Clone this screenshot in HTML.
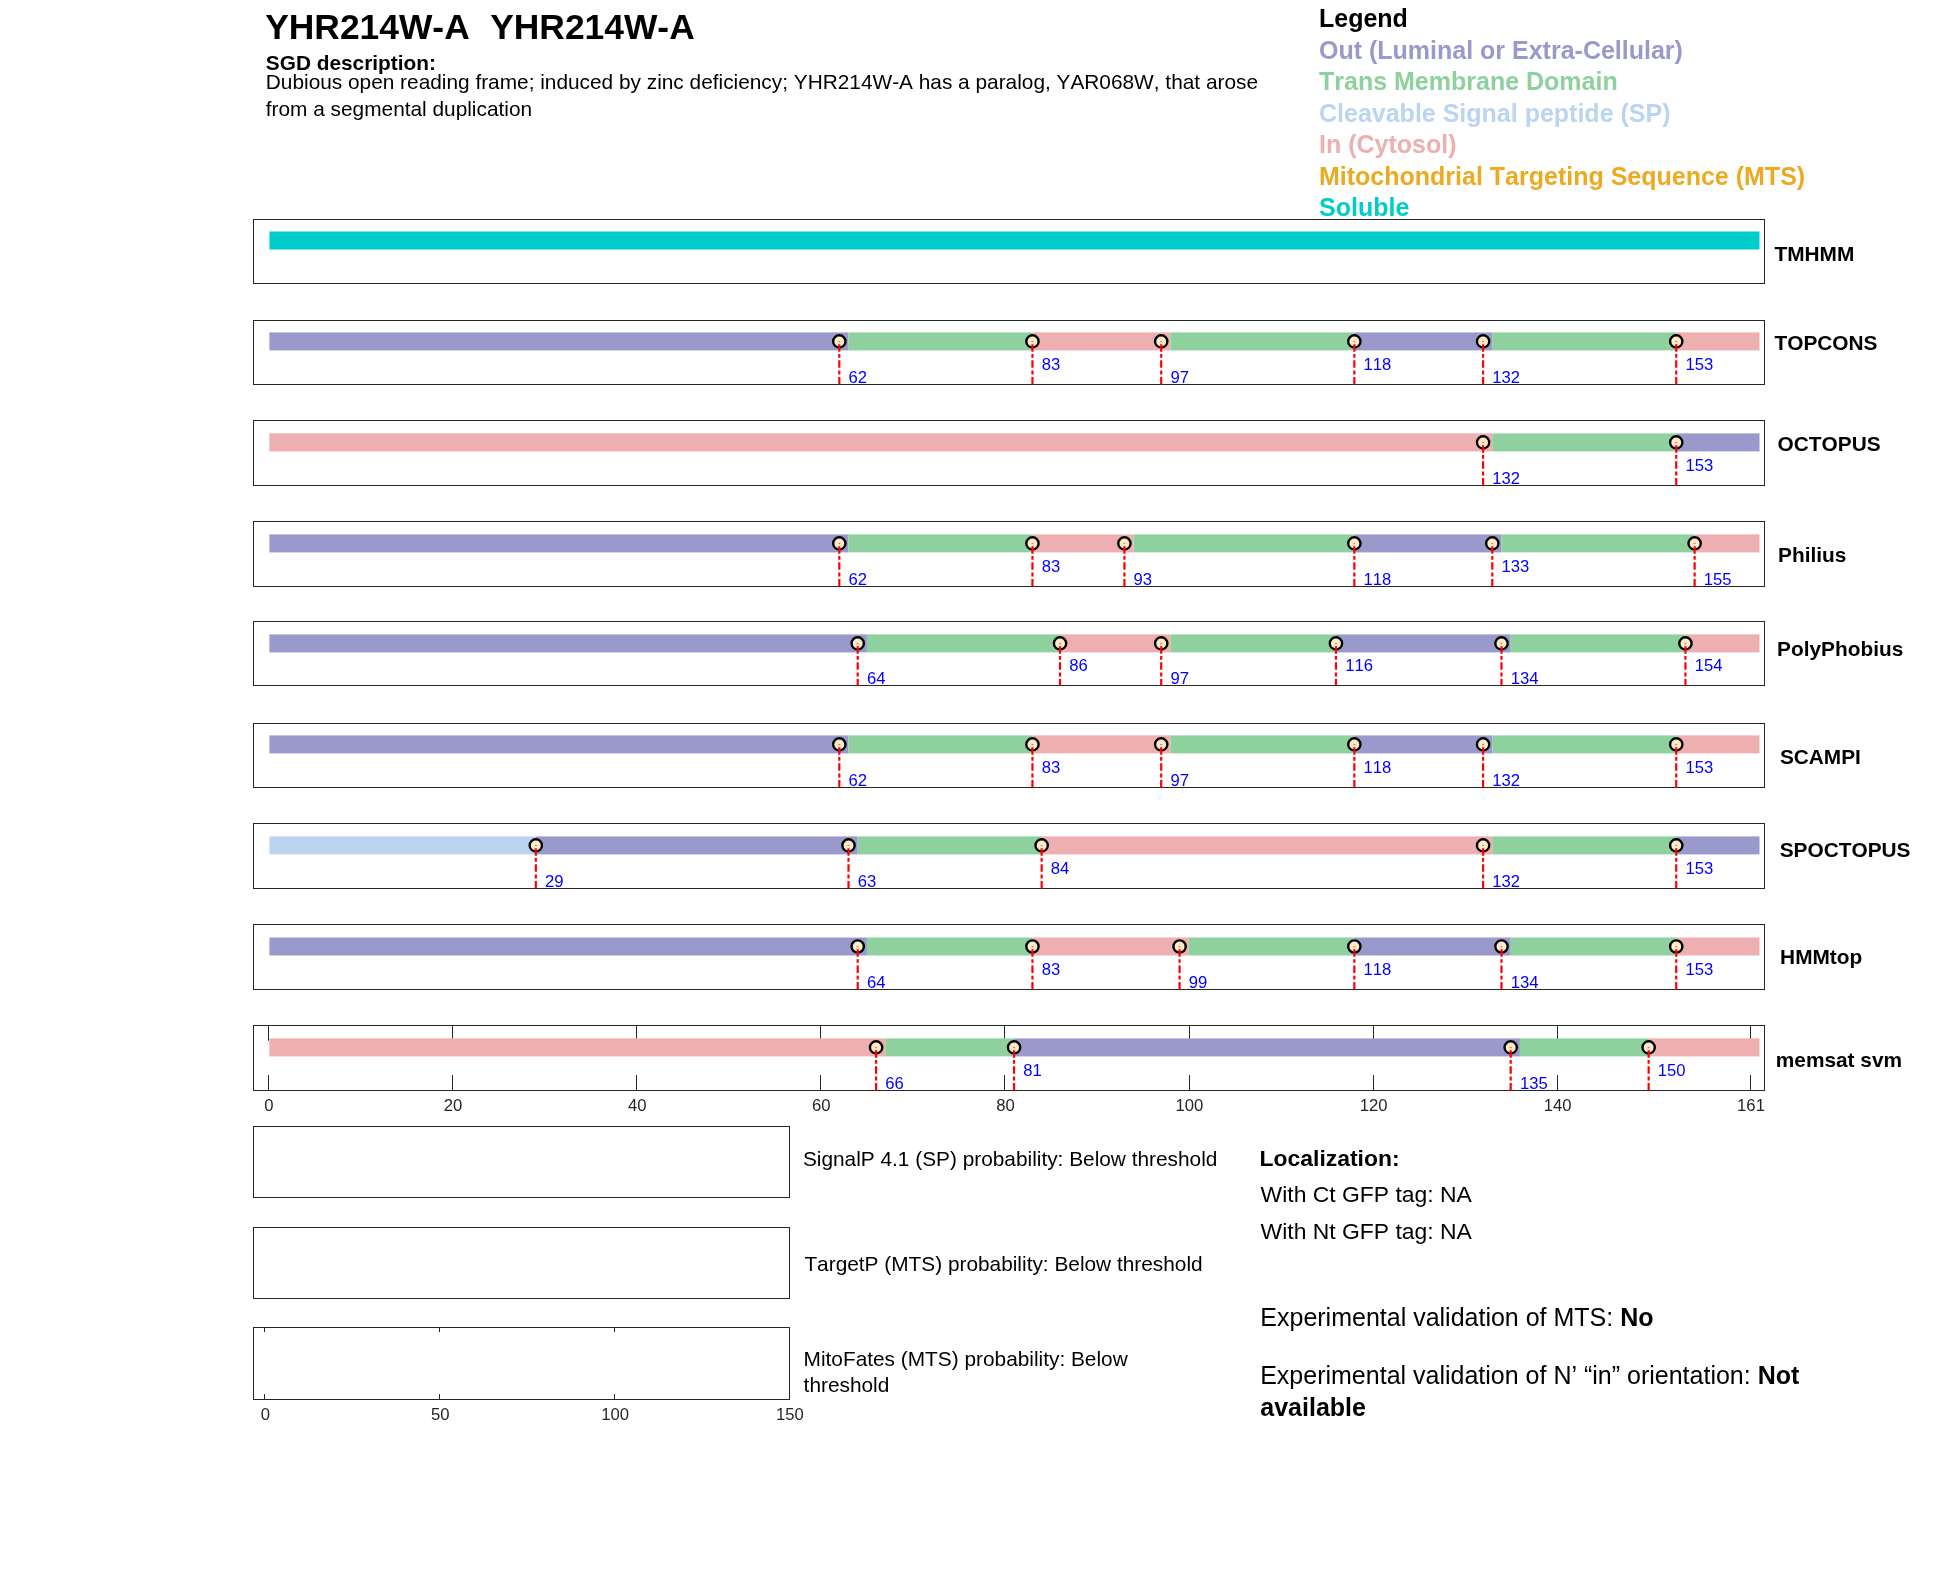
<!DOCTYPE html><html><head><meta charset="utf-8"><style>html,body{margin:0;padding:0;background:#fff;overflow:hidden;}svg{display:block;will-change:transform;}text{font-family:"Liberation Sans", sans-serif;font-variant-ligatures:none;font-kerning:none;}</style></head><body>
<svg width="1950" height="1573" viewBox="0 0 1950 1573">
<text x="265.2" y="38.8" font-size="35.4" font-weight="bold" fill="#000">YHR214W-A</text>
<text x="490.2" y="38.8" font-size="35.4" font-weight="bold" fill="#000">YHR214W-A</text>
<text x="265.8" y="69.7" font-size="20.83" font-weight="bold" fill="#000">SGD description:</text>
<text x="265.8" y="88.9" font-size="20.83" fill="#000">Dubious open reading frame; induced by zinc deficiency; YHR214W-A has a paralog, YAR068W, that arose</text>
<text x="265.8" y="115.6" font-size="20.83" fill="#000">from a segmental duplication</text>
<text x="1319" y="27.0" font-size="25" font-weight="bold" fill="#000">Legend</text>
<text x="1319" y="58.5" font-size="25" font-weight="bold" fill="#9999CC">Out (Luminal or Extra-Cellular)</text>
<text x="1319" y="90.0" font-size="25" font-weight="bold" fill="#8FD19E">Trans Membrane Domain</text>
<text x="1319" y="121.5" font-size="25" font-weight="bold" fill="#BAD4F2">Cleavable Signal peptide (SP)</text>
<text x="1319" y="153.0" font-size="25" font-weight="bold" fill="#EDAFAF">In (Cytosol)</text>
<text x="1319" y="184.5" font-size="25" font-weight="bold" fill="#EDAA20">Mitochondrial Targeting Sequence (MTS)</text>
<text x="1319" y="216.0" font-size="25" font-weight="bold" fill="#00CCCC">Soluble</text>
<rect x="253.5" y="219.5" width="1511" height="64" fill="none" stroke="#262626" stroke-width="1"/>
<rect x="269.4" y="231.50" width="1490.10" height="18.0" fill="#00CCCC"/>
<text x="1774.5" y="261" font-size="20.83" font-weight="bold" fill="#000">TMHMM</text>
<rect x="253.5" y="320.5" width="1511" height="64" fill="none" stroke="#262626" stroke-width="1"/>
<rect x="269.40" y="332.40" width="579.11" height="18.0" fill="#9999CC"/>
<rect x="848.51" y="332.40" width="183.94" height="18.0" fill="#8FD19E"/>
<rect x="1032.45" y="332.40" width="137.95" height="18.0" fill="#EDAFAF"/>
<rect x="1170.41" y="332.40" width="183.94" height="18.0" fill="#8FD19E"/>
<rect x="1354.35" y="332.40" width="137.95" height="18.0" fill="#9999CC"/>
<rect x="1492.30" y="332.40" width="183.94" height="18.0" fill="#8FD19E"/>
<rect x="1676.24" y="332.40" width="83.26" height="18.0" fill="#EDAFAF"/>
<circle cx="839.31" cy="341.40" r="6.15" fill="#FCE9CA" stroke="#000" stroke-width="2.35"/>
<circle cx="1032.45" cy="341.40" r="6.15" fill="#FCE9CA" stroke="#000" stroke-width="2.35"/>
<circle cx="1161.21" cy="341.40" r="6.15" fill="#FCE9CA" stroke="#000" stroke-width="2.35"/>
<circle cx="1354.35" cy="341.40" r="6.15" fill="#FCE9CA" stroke="#000" stroke-width="2.35"/>
<circle cx="1483.10" cy="341.40" r="6.15" fill="#FCE9CA" stroke="#000" stroke-width="2.35"/>
<circle cx="1676.24" cy="341.40" r="6.15" fill="#FCE9CA" stroke="#000" stroke-width="2.35"/>
<rect x="838.31" y="341.10" width="2" height="0.9" fill="#FF0000" opacity="0.6"/>
<line x1="839.31" y1="344.20" x2="839.31" y2="384.5" stroke="#FF0000" stroke-width="2.2" stroke-dasharray="7.5 2.4 3.6 2.6 7.5 2.8 3.8 2.6 40"/>
<text x="848.51" y="382.90" font-size="16.67" fill="#0000FF">62</text>
<rect x="1031.45" y="341.10" width="2" height="0.9" fill="#FF0000" opacity="0.6"/>
<line x1="1032.45" y1="344.20" x2="1032.45" y2="384.5" stroke="#FF0000" stroke-width="2.2" stroke-dasharray="7.5 2.4 3.6 2.6 7.5 2.8 3.8 2.6 40"/>
<text x="1041.65" y="369.90" font-size="16.67" fill="#0000FF">83</text>
<rect x="1160.21" y="341.10" width="2" height="0.9" fill="#FF0000" opacity="0.6"/>
<line x1="1161.21" y1="344.20" x2="1161.21" y2="384.5" stroke="#FF0000" stroke-width="2.2" stroke-dasharray="7.5 2.4 3.6 2.6 7.5 2.8 3.8 2.6 40"/>
<text x="1170.41" y="382.90" font-size="16.67" fill="#0000FF">97</text>
<rect x="1353.35" y="341.10" width="2" height="0.9" fill="#FF0000" opacity="0.6"/>
<line x1="1354.35" y1="344.20" x2="1354.35" y2="384.5" stroke="#FF0000" stroke-width="2.2" stroke-dasharray="7.5 2.4 3.6 2.6 7.5 2.8 3.8 2.6 40"/>
<text x="1363.54" y="369.90" font-size="16.67" fill="#0000FF">118</text>
<rect x="1482.10" y="341.10" width="2" height="0.9" fill="#FF0000" opacity="0.6"/>
<line x1="1483.10" y1="344.20" x2="1483.10" y2="384.5" stroke="#FF0000" stroke-width="2.2" stroke-dasharray="7.5 2.4 3.6 2.6 7.5 2.8 3.8 2.6 40"/>
<text x="1492.30" y="382.90" font-size="16.67" fill="#0000FF">132</text>
<rect x="1675.24" y="341.10" width="2" height="0.9" fill="#FF0000" opacity="0.6"/>
<line x1="1676.24" y1="344.20" x2="1676.24" y2="384.5" stroke="#FF0000" stroke-width="2.2" stroke-dasharray="7.5 2.4 3.6 2.6 7.5 2.8 3.8 2.6 40"/>
<text x="1685.44" y="369.90" font-size="16.67" fill="#0000FF">153</text>
<text x="1774.5" y="350" font-size="20.83" font-weight="bold" fill="#000">TOPCONS</text>
<rect x="253.5" y="420.5" width="1511" height="65" fill="none" stroke="#262626" stroke-width="1"/>
<rect x="269.40" y="433.40" width="1222.90" height="18.0" fill="#EDAFAF"/>
<rect x="1492.30" y="433.40" width="183.94" height="18.0" fill="#8FD19E"/>
<rect x="1676.24" y="433.40" width="83.26" height="18.0" fill="#9999CC"/>
<circle cx="1483.10" cy="442.40" r="6.15" fill="#FCE9CA" stroke="#000" stroke-width="2.35"/>
<circle cx="1676.24" cy="442.40" r="6.15" fill="#FCE9CA" stroke="#000" stroke-width="2.35"/>
<rect x="1482.10" y="442.10" width="2" height="0.9" fill="#FF0000" opacity="0.6"/>
<line x1="1483.10" y1="445.20" x2="1483.10" y2="485.5" stroke="#FF0000" stroke-width="2.2" stroke-dasharray="7.5 2.4 3.6 2.6 7.5 2.8 3.8 2.6 40"/>
<text x="1492.30" y="483.90" font-size="16.67" fill="#0000FF">132</text>
<rect x="1675.24" y="442.10" width="2" height="0.9" fill="#FF0000" opacity="0.6"/>
<line x1="1676.24" y1="445.20" x2="1676.24" y2="485.5" stroke="#FF0000" stroke-width="2.2" stroke-dasharray="7.5 2.4 3.6 2.6 7.5 2.8 3.8 2.6 40"/>
<text x="1685.44" y="470.90" font-size="16.67" fill="#0000FF">153</text>
<text x="1777.6" y="451" font-size="20.83" font-weight="bold" fill="#000">OCTOPUS</text>
<rect x="253.5" y="521.5" width="1511" height="65" fill="none" stroke="#262626" stroke-width="1"/>
<rect x="269.40" y="534.40" width="579.11" height="18.0" fill="#9999CC"/>
<rect x="848.51" y="534.40" width="183.94" height="18.0" fill="#8FD19E"/>
<rect x="1032.45" y="534.40" width="101.17" height="18.0" fill="#EDAFAF"/>
<rect x="1133.62" y="534.40" width="220.73" height="18.0" fill="#8FD19E"/>
<rect x="1354.35" y="534.40" width="147.15" height="18.0" fill="#9999CC"/>
<rect x="1501.50" y="534.40" width="193.14" height="18.0" fill="#8FD19E"/>
<rect x="1694.63" y="534.40" width="64.87" height="18.0" fill="#EDAFAF"/>
<circle cx="839.31" cy="543.40" r="6.15" fill="#FCE9CA" stroke="#000" stroke-width="2.35"/>
<circle cx="1032.45" cy="543.40" r="6.15" fill="#FCE9CA" stroke="#000" stroke-width="2.35"/>
<circle cx="1124.42" cy="543.40" r="6.15" fill="#FCE9CA" stroke="#000" stroke-width="2.35"/>
<circle cx="1354.35" cy="543.40" r="6.15" fill="#FCE9CA" stroke="#000" stroke-width="2.35"/>
<circle cx="1492.30" cy="543.40" r="6.15" fill="#FCE9CA" stroke="#000" stroke-width="2.35"/>
<circle cx="1694.63" cy="543.40" r="6.15" fill="#FCE9CA" stroke="#000" stroke-width="2.35"/>
<rect x="838.31" y="543.10" width="2" height="0.9" fill="#FF0000" opacity="0.6"/>
<line x1="839.31" y1="546.20" x2="839.31" y2="586.5" stroke="#FF0000" stroke-width="2.2" stroke-dasharray="7.5 2.4 3.6 2.6 7.5 2.8 3.8 2.6 40"/>
<text x="848.51" y="584.90" font-size="16.67" fill="#0000FF">62</text>
<rect x="1031.45" y="543.10" width="2" height="0.9" fill="#FF0000" opacity="0.6"/>
<line x1="1032.45" y1="546.20" x2="1032.45" y2="586.5" stroke="#FF0000" stroke-width="2.2" stroke-dasharray="7.5 2.4 3.6 2.6 7.5 2.8 3.8 2.6 40"/>
<text x="1041.65" y="571.90" font-size="16.67" fill="#0000FF">83</text>
<rect x="1123.42" y="543.10" width="2" height="0.9" fill="#FF0000" opacity="0.6"/>
<line x1="1124.42" y1="546.20" x2="1124.42" y2="586.5" stroke="#FF0000" stroke-width="2.2" stroke-dasharray="7.5 2.4 3.6 2.6 7.5 2.8 3.8 2.6 40"/>
<text x="1133.62" y="584.90" font-size="16.67" fill="#0000FF">93</text>
<rect x="1353.35" y="543.10" width="2" height="0.9" fill="#FF0000" opacity="0.6"/>
<line x1="1354.35" y1="546.20" x2="1354.35" y2="586.5" stroke="#FF0000" stroke-width="2.2" stroke-dasharray="7.5 2.4 3.6 2.6 7.5 2.8 3.8 2.6 40"/>
<text x="1363.54" y="584.90" font-size="16.67" fill="#0000FF">118</text>
<rect x="1491.30" y="543.10" width="2" height="0.9" fill="#FF0000" opacity="0.6"/>
<line x1="1492.30" y1="546.20" x2="1492.30" y2="586.5" stroke="#FF0000" stroke-width="2.2" stroke-dasharray="7.5 2.4 3.6 2.6 7.5 2.8 3.8 2.6 40"/>
<text x="1501.50" y="571.90" font-size="16.67" fill="#0000FF">133</text>
<rect x="1693.63" y="543.10" width="2" height="0.9" fill="#FF0000" opacity="0.6"/>
<line x1="1694.63" y1="546.20" x2="1694.63" y2="586.5" stroke="#FF0000" stroke-width="2.2" stroke-dasharray="7.5 2.4 3.6 2.6 7.5 2.8 3.8 2.6 40"/>
<text x="1703.83" y="584.90" font-size="16.67" fill="#0000FF">155</text>
<text x="1778.1" y="561.9" font-size="20.83" font-weight="bold" fill="#000">Philius</text>
<rect x="253.5" y="621.5" width="1511" height="64" fill="none" stroke="#262626" stroke-width="1"/>
<rect x="269.40" y="634.40" width="597.50" height="18.0" fill="#9999CC"/>
<rect x="866.90" y="634.40" width="193.14" height="18.0" fill="#8FD19E"/>
<rect x="1060.04" y="634.40" width="110.36" height="18.0" fill="#EDAFAF"/>
<rect x="1170.41" y="634.40" width="165.55" height="18.0" fill="#8FD19E"/>
<rect x="1335.95" y="634.40" width="174.74" height="18.0" fill="#9999CC"/>
<rect x="1510.69" y="634.40" width="174.74" height="18.0" fill="#8FD19E"/>
<rect x="1685.44" y="634.40" width="74.06" height="18.0" fill="#EDAFAF"/>
<circle cx="857.71" cy="643.40" r="6.15" fill="#FCE9CA" stroke="#000" stroke-width="2.35"/>
<circle cx="1060.04" cy="643.40" r="6.15" fill="#FCE9CA" stroke="#000" stroke-width="2.35"/>
<circle cx="1161.21" cy="643.40" r="6.15" fill="#FCE9CA" stroke="#000" stroke-width="2.35"/>
<circle cx="1335.95" cy="643.40" r="6.15" fill="#FCE9CA" stroke="#000" stroke-width="2.35"/>
<circle cx="1501.50" cy="643.40" r="6.15" fill="#FCE9CA" stroke="#000" stroke-width="2.35"/>
<circle cx="1685.44" cy="643.40" r="6.15" fill="#FCE9CA" stroke="#000" stroke-width="2.35"/>
<rect x="856.71" y="643.10" width="2" height="0.9" fill="#FF0000" opacity="0.6"/>
<line x1="857.71" y1="646.20" x2="857.71" y2="685.5" stroke="#FF0000" stroke-width="2.2" stroke-dasharray="7.5 2.4 3.6 2.6 7.5 2.8 3.8 2.6 40"/>
<text x="866.90" y="683.90" font-size="16.67" fill="#0000FF">64</text>
<rect x="1059.04" y="643.10" width="2" height="0.9" fill="#FF0000" opacity="0.6"/>
<line x1="1060.04" y1="646.20" x2="1060.04" y2="685.5" stroke="#FF0000" stroke-width="2.2" stroke-dasharray="7.5 2.4 3.6 2.6 7.5 2.8 3.8 2.6 40"/>
<text x="1069.24" y="670.90" font-size="16.67" fill="#0000FF">86</text>
<rect x="1160.21" y="643.10" width="2" height="0.9" fill="#FF0000" opacity="0.6"/>
<line x1="1161.21" y1="646.20" x2="1161.21" y2="685.5" stroke="#FF0000" stroke-width="2.2" stroke-dasharray="7.5 2.4 3.6 2.6 7.5 2.8 3.8 2.6 40"/>
<text x="1170.41" y="683.90" font-size="16.67" fill="#0000FF">97</text>
<rect x="1334.95" y="643.10" width="2" height="0.9" fill="#FF0000" opacity="0.6"/>
<line x1="1335.95" y1="646.20" x2="1335.95" y2="685.5" stroke="#FF0000" stroke-width="2.2" stroke-dasharray="7.5 2.4 3.6 2.6 7.5 2.8 3.8 2.6 40"/>
<text x="1345.15" y="670.90" font-size="16.67" fill="#0000FF">116</text>
<rect x="1500.50" y="643.10" width="2" height="0.9" fill="#FF0000" opacity="0.6"/>
<line x1="1501.50" y1="646.20" x2="1501.50" y2="685.5" stroke="#FF0000" stroke-width="2.2" stroke-dasharray="7.5 2.4 3.6 2.6 7.5 2.8 3.8 2.6 40"/>
<text x="1510.69" y="683.90" font-size="16.67" fill="#0000FF">134</text>
<rect x="1684.44" y="643.10" width="2" height="0.9" fill="#FF0000" opacity="0.6"/>
<line x1="1685.44" y1="646.20" x2="1685.44" y2="685.5" stroke="#FF0000" stroke-width="2.2" stroke-dasharray="7.5 2.4 3.6 2.6 7.5 2.8 3.8 2.6 40"/>
<text x="1694.63" y="670.90" font-size="16.67" fill="#0000FF">154</text>
<text x="1777.1" y="655.8" font-size="20.83" font-weight="bold" fill="#000">PolyPhobius</text>
<rect x="253.5" y="723.5" width="1511" height="64" fill="none" stroke="#262626" stroke-width="1"/>
<rect x="269.40" y="735.40" width="579.11" height="18.0" fill="#9999CC"/>
<rect x="848.51" y="735.40" width="183.94" height="18.0" fill="#8FD19E"/>
<rect x="1032.45" y="735.40" width="137.95" height="18.0" fill="#EDAFAF"/>
<rect x="1170.41" y="735.40" width="183.94" height="18.0" fill="#8FD19E"/>
<rect x="1354.35" y="735.40" width="137.95" height="18.0" fill="#9999CC"/>
<rect x="1492.30" y="735.40" width="183.94" height="18.0" fill="#8FD19E"/>
<rect x="1676.24" y="735.40" width="83.26" height="18.0" fill="#EDAFAF"/>
<circle cx="839.31" cy="744.40" r="6.15" fill="#FCE9CA" stroke="#000" stroke-width="2.35"/>
<circle cx="1032.45" cy="744.40" r="6.15" fill="#FCE9CA" stroke="#000" stroke-width="2.35"/>
<circle cx="1161.21" cy="744.40" r="6.15" fill="#FCE9CA" stroke="#000" stroke-width="2.35"/>
<circle cx="1354.35" cy="744.40" r="6.15" fill="#FCE9CA" stroke="#000" stroke-width="2.35"/>
<circle cx="1483.10" cy="744.40" r="6.15" fill="#FCE9CA" stroke="#000" stroke-width="2.35"/>
<circle cx="1676.24" cy="744.40" r="6.15" fill="#FCE9CA" stroke="#000" stroke-width="2.35"/>
<rect x="838.31" y="744.10" width="2" height="0.9" fill="#FF0000" opacity="0.6"/>
<line x1="839.31" y1="747.20" x2="839.31" y2="787.5" stroke="#FF0000" stroke-width="2.2" stroke-dasharray="7.5 2.4 3.6 2.6 7.5 2.8 3.8 2.6 40"/>
<text x="848.51" y="785.90" font-size="16.67" fill="#0000FF">62</text>
<rect x="1031.45" y="744.10" width="2" height="0.9" fill="#FF0000" opacity="0.6"/>
<line x1="1032.45" y1="747.20" x2="1032.45" y2="787.5" stroke="#FF0000" stroke-width="2.2" stroke-dasharray="7.5 2.4 3.6 2.6 7.5 2.8 3.8 2.6 40"/>
<text x="1041.65" y="772.90" font-size="16.67" fill="#0000FF">83</text>
<rect x="1160.21" y="744.10" width="2" height="0.9" fill="#FF0000" opacity="0.6"/>
<line x1="1161.21" y1="747.20" x2="1161.21" y2="787.5" stroke="#FF0000" stroke-width="2.2" stroke-dasharray="7.5 2.4 3.6 2.6 7.5 2.8 3.8 2.6 40"/>
<text x="1170.41" y="785.90" font-size="16.67" fill="#0000FF">97</text>
<rect x="1353.35" y="744.10" width="2" height="0.9" fill="#FF0000" opacity="0.6"/>
<line x1="1354.35" y1="747.20" x2="1354.35" y2="787.5" stroke="#FF0000" stroke-width="2.2" stroke-dasharray="7.5 2.4 3.6 2.6 7.5 2.8 3.8 2.6 40"/>
<text x="1363.54" y="772.90" font-size="16.67" fill="#0000FF">118</text>
<rect x="1482.10" y="744.10" width="2" height="0.9" fill="#FF0000" opacity="0.6"/>
<line x1="1483.10" y1="747.20" x2="1483.10" y2="787.5" stroke="#FF0000" stroke-width="2.2" stroke-dasharray="7.5 2.4 3.6 2.6 7.5 2.8 3.8 2.6 40"/>
<text x="1492.30" y="785.90" font-size="16.67" fill="#0000FF">132</text>
<rect x="1675.24" y="744.10" width="2" height="0.9" fill="#FF0000" opacity="0.6"/>
<line x1="1676.24" y1="747.20" x2="1676.24" y2="787.5" stroke="#FF0000" stroke-width="2.2" stroke-dasharray="7.5 2.4 3.6 2.6 7.5 2.8 3.8 2.6 40"/>
<text x="1685.44" y="772.90" font-size="16.67" fill="#0000FF">153</text>
<text x="1779.9" y="764" font-size="20.83" font-weight="bold" fill="#000">SCAMPI</text>
<rect x="253.5" y="823.5" width="1511" height="65" fill="none" stroke="#262626" stroke-width="1"/>
<rect x="269.40" y="836.40" width="266.41" height="18.0" fill="#BAD4F2"/>
<rect x="535.81" y="836.40" width="321.89" height="18.0" fill="#9999CC"/>
<rect x="857.71" y="836.40" width="183.94" height="18.0" fill="#8FD19E"/>
<rect x="1041.65" y="836.40" width="450.65" height="18.0" fill="#EDAFAF"/>
<rect x="1492.30" y="836.40" width="183.94" height="18.0" fill="#8FD19E"/>
<rect x="1676.24" y="836.40" width="83.26" height="18.0" fill="#9999CC"/>
<circle cx="535.81" cy="845.40" r="6.15" fill="#FCE9CA" stroke="#000" stroke-width="2.35"/>
<circle cx="848.51" cy="845.40" r="6.15" fill="#FCE9CA" stroke="#000" stroke-width="2.35"/>
<circle cx="1041.65" cy="845.40" r="6.15" fill="#FCE9CA" stroke="#000" stroke-width="2.35"/>
<circle cx="1483.10" cy="845.40" r="6.15" fill="#FCE9CA" stroke="#000" stroke-width="2.35"/>
<circle cx="1676.24" cy="845.40" r="6.15" fill="#FCE9CA" stroke="#000" stroke-width="2.35"/>
<rect x="534.81" y="845.10" width="2" height="0.9" fill="#FF0000" opacity="0.6"/>
<line x1="535.81" y1="848.20" x2="535.81" y2="888.5" stroke="#FF0000" stroke-width="2.2" stroke-dasharray="7.5 2.4 3.6 2.6 7.5 2.8 3.8 2.6 40"/>
<text x="545.01" y="886.90" font-size="16.67" fill="#0000FF">29</text>
<rect x="847.51" y="845.10" width="2" height="0.9" fill="#FF0000" opacity="0.6"/>
<line x1="848.51" y1="848.20" x2="848.51" y2="888.5" stroke="#FF0000" stroke-width="2.2" stroke-dasharray="7.5 2.4 3.6 2.6 7.5 2.8 3.8 2.6 40"/>
<text x="857.71" y="886.90" font-size="16.67" fill="#0000FF">63</text>
<rect x="1040.65" y="845.10" width="2" height="0.9" fill="#FF0000" opacity="0.6"/>
<line x1="1041.65" y1="848.20" x2="1041.65" y2="888.5" stroke="#FF0000" stroke-width="2.2" stroke-dasharray="7.5 2.4 3.6 2.6 7.5 2.8 3.8 2.6 40"/>
<text x="1050.84" y="873.90" font-size="16.67" fill="#0000FF">84</text>
<rect x="1482.10" y="845.10" width="2" height="0.9" fill="#FF0000" opacity="0.6"/>
<line x1="1483.10" y1="848.20" x2="1483.10" y2="888.5" stroke="#FF0000" stroke-width="2.2" stroke-dasharray="7.5 2.4 3.6 2.6 7.5 2.8 3.8 2.6 40"/>
<text x="1492.30" y="886.90" font-size="16.67" fill="#0000FF">132</text>
<rect x="1675.24" y="845.10" width="2" height="0.9" fill="#FF0000" opacity="0.6"/>
<line x1="1676.24" y1="848.20" x2="1676.24" y2="888.5" stroke="#FF0000" stroke-width="2.2" stroke-dasharray="7.5 2.4 3.6 2.6 7.5 2.8 3.8 2.6 40"/>
<text x="1685.44" y="873.90" font-size="16.67" fill="#0000FF">153</text>
<text x="1779.7" y="856.8" font-size="20.83" font-weight="bold" fill="#000">SPOCTOPUS</text>
<rect x="253.5" y="924.5" width="1511" height="65" fill="none" stroke="#262626" stroke-width="1"/>
<rect x="269.40" y="937.50" width="597.50" height="18.0" fill="#9999CC"/>
<rect x="866.90" y="937.50" width="165.55" height="18.0" fill="#8FD19E"/>
<rect x="1032.45" y="937.50" width="156.35" height="18.0" fill="#EDAFAF"/>
<rect x="1188.80" y="937.50" width="165.55" height="18.0" fill="#8FD19E"/>
<rect x="1354.35" y="937.50" width="156.35" height="18.0" fill="#9999CC"/>
<rect x="1510.69" y="937.50" width="165.55" height="18.0" fill="#8FD19E"/>
<rect x="1676.24" y="937.50" width="83.26" height="18.0" fill="#EDAFAF"/>
<circle cx="857.71" cy="946.50" r="6.15" fill="#FCE9CA" stroke="#000" stroke-width="2.35"/>
<circle cx="1032.45" cy="946.50" r="6.15" fill="#FCE9CA" stroke="#000" stroke-width="2.35"/>
<circle cx="1179.60" cy="946.50" r="6.15" fill="#FCE9CA" stroke="#000" stroke-width="2.35"/>
<circle cx="1354.35" cy="946.50" r="6.15" fill="#FCE9CA" stroke="#000" stroke-width="2.35"/>
<circle cx="1501.50" cy="946.50" r="6.15" fill="#FCE9CA" stroke="#000" stroke-width="2.35"/>
<circle cx="1676.24" cy="946.50" r="6.15" fill="#FCE9CA" stroke="#000" stroke-width="2.35"/>
<rect x="856.71" y="946.20" width="2" height="0.9" fill="#FF0000" opacity="0.6"/>
<line x1="857.71" y1="949.30" x2="857.71" y2="989.5" stroke="#FF0000" stroke-width="2.2" stroke-dasharray="7.5 2.4 3.6 2.6 7.5 2.8 3.8 2.6 40"/>
<text x="866.90" y="987.90" font-size="16.67" fill="#0000FF">64</text>
<rect x="1031.45" y="946.20" width="2" height="0.9" fill="#FF0000" opacity="0.6"/>
<line x1="1032.45" y1="949.30" x2="1032.45" y2="989.5" stroke="#FF0000" stroke-width="2.2" stroke-dasharray="7.5 2.4 3.6 2.6 7.5 2.8 3.8 2.6 40"/>
<text x="1041.65" y="974.90" font-size="16.67" fill="#0000FF">83</text>
<rect x="1178.60" y="946.20" width="2" height="0.9" fill="#FF0000" opacity="0.6"/>
<line x1="1179.60" y1="949.30" x2="1179.60" y2="989.5" stroke="#FF0000" stroke-width="2.2" stroke-dasharray="7.5 2.4 3.6 2.6 7.5 2.8 3.8 2.6 40"/>
<text x="1188.80" y="987.90" font-size="16.67" fill="#0000FF">99</text>
<rect x="1353.35" y="946.20" width="2" height="0.9" fill="#FF0000" opacity="0.6"/>
<line x1="1354.35" y1="949.30" x2="1354.35" y2="989.5" stroke="#FF0000" stroke-width="2.2" stroke-dasharray="7.5 2.4 3.6 2.6 7.5 2.8 3.8 2.6 40"/>
<text x="1363.54" y="974.90" font-size="16.67" fill="#0000FF">118</text>
<rect x="1500.50" y="946.20" width="2" height="0.9" fill="#FF0000" opacity="0.6"/>
<line x1="1501.50" y1="949.30" x2="1501.50" y2="989.5" stroke="#FF0000" stroke-width="2.2" stroke-dasharray="7.5 2.4 3.6 2.6 7.5 2.8 3.8 2.6 40"/>
<text x="1510.69" y="987.90" font-size="16.67" fill="#0000FF">134</text>
<rect x="1675.24" y="946.20" width="2" height="0.9" fill="#FF0000" opacity="0.6"/>
<line x1="1676.24" y1="949.30" x2="1676.24" y2="989.5" stroke="#FF0000" stroke-width="2.2" stroke-dasharray="7.5 2.4 3.6 2.6 7.5 2.8 3.8 2.6 40"/>
<text x="1685.44" y="974.90" font-size="16.67" fill="#0000FF">153</text>
<text x="1780.1" y="964" font-size="20.83" font-weight="bold" fill="#000">HMMtop</text>
<rect x="253.5" y="1025.5" width="1511" height="65" fill="none" stroke="#262626" stroke-width="1"/>
<line x1="268.5" y1="1025" x2="268.5" y2="1040.7" stroke="#262626" stroke-width="1"/>
<line x1="268.5" y1="1075" x2="268.5" y2="1090" stroke="#262626" stroke-width="1"/>
<line x1="452.5" y1="1025" x2="452.5" y2="1040.7" stroke="#262626" stroke-width="1"/>
<line x1="452.5" y1="1075" x2="452.5" y2="1090" stroke="#262626" stroke-width="1"/>
<line x1="636.5" y1="1025" x2="636.5" y2="1040.7" stroke="#262626" stroke-width="1"/>
<line x1="636.5" y1="1075" x2="636.5" y2="1090" stroke="#262626" stroke-width="1"/>
<line x1="820.5" y1="1025" x2="820.5" y2="1040.7" stroke="#262626" stroke-width="1"/>
<line x1="820.5" y1="1075" x2="820.5" y2="1090" stroke="#262626" stroke-width="1"/>
<line x1="1004.5" y1="1025" x2="1004.5" y2="1040.7" stroke="#262626" stroke-width="1"/>
<line x1="1004.5" y1="1075" x2="1004.5" y2="1090" stroke="#262626" stroke-width="1"/>
<line x1="1189.5" y1="1025" x2="1189.5" y2="1040.7" stroke="#262626" stroke-width="1"/>
<line x1="1189.5" y1="1075" x2="1189.5" y2="1090" stroke="#262626" stroke-width="1"/>
<line x1="1373.5" y1="1025" x2="1373.5" y2="1040.7" stroke="#262626" stroke-width="1"/>
<line x1="1373.5" y1="1075" x2="1373.5" y2="1090" stroke="#262626" stroke-width="1"/>
<line x1="1557.5" y1="1025" x2="1557.5" y2="1040.7" stroke="#262626" stroke-width="1"/>
<line x1="1557.5" y1="1075" x2="1557.5" y2="1090" stroke="#262626" stroke-width="1"/>
<line x1="1750.5" y1="1025" x2="1750.5" y2="1040.7" stroke="#262626" stroke-width="1"/>
<line x1="1750.5" y1="1075" x2="1750.5" y2="1090" stroke="#262626" stroke-width="1"/>
<rect x="269.40" y="1038.40" width="615.90" height="18.0" fill="#EDAFAF"/>
<rect x="885.30" y="1038.40" width="128.76" height="18.0" fill="#8FD19E"/>
<rect x="1014.06" y="1038.40" width="505.83" height="18.0" fill="#9999CC"/>
<rect x="1519.89" y="1038.40" width="128.76" height="18.0" fill="#8FD19E"/>
<rect x="1648.65" y="1038.40" width="110.85" height="18.0" fill="#EDAFAF"/>
<circle cx="876.10" cy="1047.40" r="6.15" fill="#FCE9CA" stroke="#000" stroke-width="2.35"/>
<circle cx="1014.06" cy="1047.40" r="6.15" fill="#FCE9CA" stroke="#000" stroke-width="2.35"/>
<circle cx="1510.69" cy="1047.40" r="6.15" fill="#FCE9CA" stroke="#000" stroke-width="2.35"/>
<circle cx="1648.65" cy="1047.40" r="6.15" fill="#FCE9CA" stroke="#000" stroke-width="2.35"/>
<rect x="875.10" y="1047.10" width="2" height="0.9" fill="#FF0000" opacity="0.6"/>
<line x1="876.10" y1="1050.20" x2="876.10" y2="1090.5" stroke="#FF0000" stroke-width="2.2" stroke-dasharray="7.5 2.4 3.6 2.6 7.5 2.8 3.8 2.6 40"/>
<text x="885.30" y="1088.90" font-size="16.67" fill="#0000FF">66</text>
<rect x="1013.06" y="1047.10" width="2" height="0.9" fill="#FF0000" opacity="0.6"/>
<line x1="1014.06" y1="1050.20" x2="1014.06" y2="1090.5" stroke="#FF0000" stroke-width="2.2" stroke-dasharray="7.5 2.4 3.6 2.6 7.5 2.8 3.8 2.6 40"/>
<text x="1023.25" y="1075.90" font-size="16.67" fill="#0000FF">81</text>
<rect x="1509.69" y="1047.10" width="2" height="0.9" fill="#FF0000" opacity="0.6"/>
<line x1="1510.69" y1="1050.20" x2="1510.69" y2="1090.5" stroke="#FF0000" stroke-width="2.2" stroke-dasharray="7.5 2.4 3.6 2.6 7.5 2.8 3.8 2.6 40"/>
<text x="1519.89" y="1088.90" font-size="16.67" fill="#0000FF">135</text>
<rect x="1647.65" y="1047.10" width="2" height="0.9" fill="#FF0000" opacity="0.6"/>
<line x1="1648.65" y1="1050.20" x2="1648.65" y2="1090.5" stroke="#FF0000" stroke-width="2.2" stroke-dasharray="7.5 2.4 3.6 2.6 7.5 2.8 3.8 2.6 40"/>
<text x="1657.85" y="1075.90" font-size="16.67" fill="#0000FF">150</text>
<text x="1775.8" y="1067" font-size="20.83" font-weight="bold" fill="#000">memsat svm</text>
<text x="269.00" y="1111" font-size="16.67" fill="#262626" text-anchor="middle">0</text>
<text x="453.10" y="1111" font-size="16.67" fill="#262626" text-anchor="middle">20</text>
<text x="637.20" y="1111" font-size="16.67" fill="#262626" text-anchor="middle">40</text>
<text x="821.30" y="1111" font-size="16.67" fill="#262626" text-anchor="middle">60</text>
<text x="1005.40" y="1111" font-size="16.67" fill="#262626" text-anchor="middle">80</text>
<text x="1189.50" y="1111" font-size="16.67" fill="#262626" text-anchor="middle">100</text>
<text x="1373.60" y="1111" font-size="16.67" fill="#262626" text-anchor="middle">120</text>
<text x="1557.70" y="1111" font-size="16.67" fill="#262626" text-anchor="middle">140</text>
<text x="1751.01" y="1111" font-size="16.67" fill="#262626" text-anchor="middle">161</text>
<rect x="253.5" y="1126.5" width="536" height="71" fill="none" stroke="#262626" stroke-width="1"/>
<rect x="253.5" y="1227.5" width="536" height="71" fill="none" stroke="#262626" stroke-width="1"/>
<rect x="253.5" y="1327.5" width="536" height="72" fill="none" stroke="#262626" stroke-width="1"/>
<line x1="264.5" y1="1327" x2="264.5" y2="1332" stroke="#262626" stroke-width="1"/>
<line x1="264.5" y1="1394" x2="264.5" y2="1399" stroke="#262626" stroke-width="1"/>
<text x="265.30" y="1420" font-size="16.67" fill="#262626" text-anchor="middle">0</text>
<line x1="439.5" y1="1327" x2="439.5" y2="1332" stroke="#262626" stroke-width="1"/>
<line x1="439.5" y1="1394" x2="439.5" y2="1399" stroke="#262626" stroke-width="1"/>
<text x="440.20" y="1420" font-size="16.67" fill="#262626" text-anchor="middle">50</text>
<line x1="614.5" y1="1327" x2="614.5" y2="1332" stroke="#262626" stroke-width="1"/>
<line x1="614.5" y1="1394" x2="614.5" y2="1399" stroke="#262626" stroke-width="1"/>
<text x="615.10" y="1420" font-size="16.67" fill="#262626" text-anchor="middle">100</text>
<text x="790.00" y="1420" font-size="16.67" fill="#262626" text-anchor="middle">150</text>
<text x="802.9" y="1165.8" font-size="20.83" fill="#000">SignalP 4.1 (SP) probability: Below threshold</text>
<text x="804.4" y="1270.9" font-size="20.83" fill="#000">TargetP (MTS) probability: Below threshold</text>
<text x="803.6" y="1365.6" font-size="20.83" fill="#000">MitoFates (MTS) probability: Below</text>
<text x="803.6" y="1392.2" font-size="20.83" fill="#000">threshold</text>
<text x="1259.6" y="1165.7" font-size="22.92" font-weight="bold" fill="#000">Localization:</text>
<text x="1260.6" y="1201.9" font-size="22.92" fill="#000">With Ct GFP tag: NA</text>
<text x="1260.6" y="1238.8" font-size="22.92" fill="#000">With Nt GFP tag: NA</text>
<text x="1260.3" y="1325.7" font-size="25" fill="#000">Experimental validation of MTS: <tspan font-weight="bold">No</tspan></text>
<text x="1260.2" y="1384.2" font-size="25" fill="#000">Experimental validation of N’ “in” orientation: <tspan font-weight="bold">Not</tspan></text>
<text x="1260.3" y="1415.7" font-size="25" font-weight="bold" fill="#000">available</text>
</svg></body></html>
